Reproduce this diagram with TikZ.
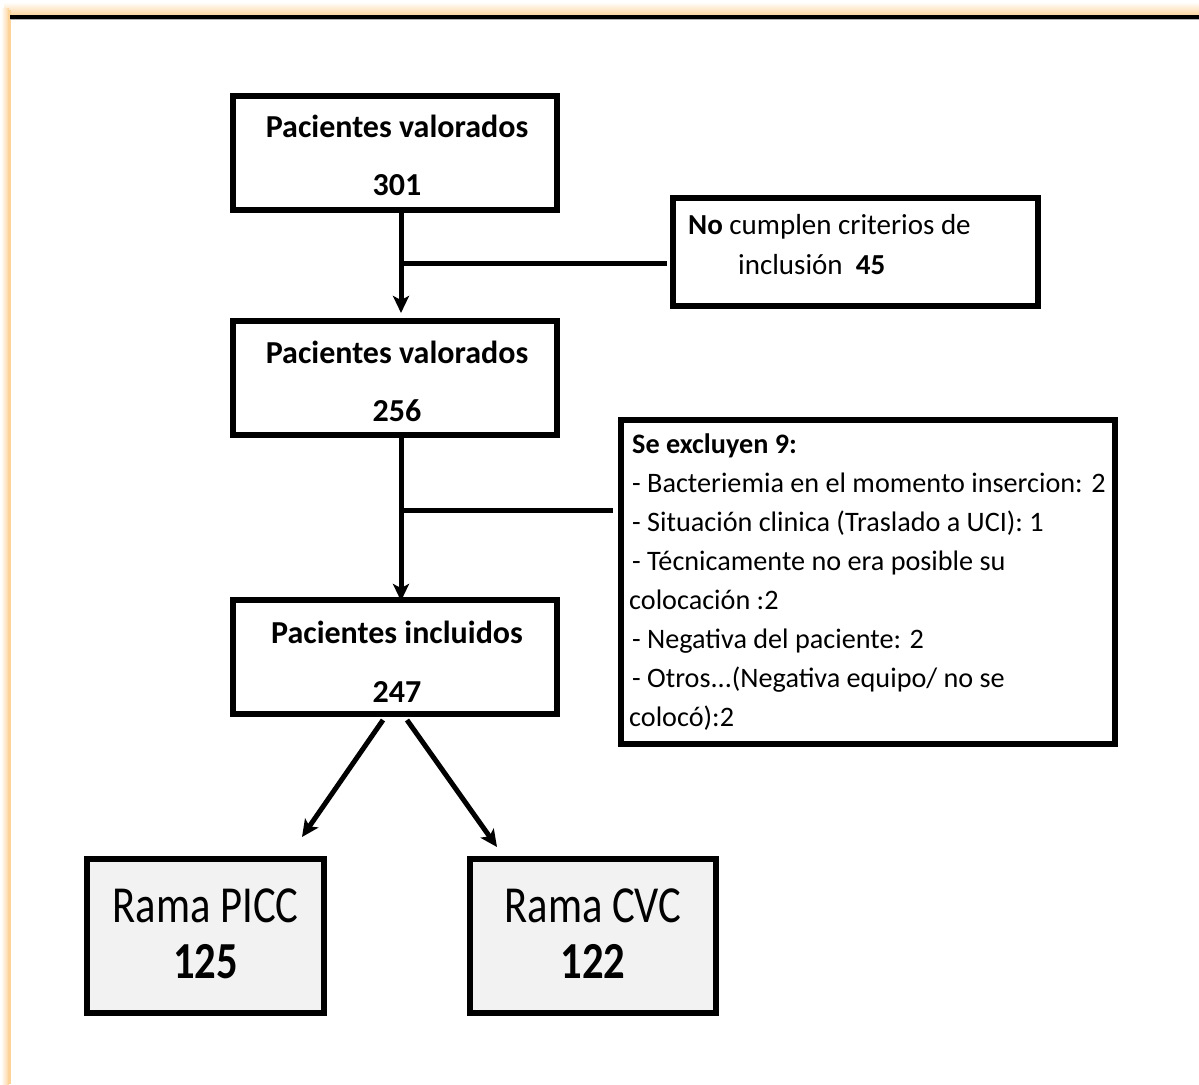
\documentclass[tikz,border=0pt]{standalone}
\usepackage{fontspec}
\setmainfont{Carlito}
\usepackage{graphicx}
\usetikzlibrary{arrows.meta,calc}
\definecolor{boxgray}{HTML}{F2F2F2}
\definecolor{glow}{HTML}{FDD39A}
\begin{document}
\begin{tikzpicture}[x=1pt,y=-1pt,
  box/.style={draw=black,line width=6pt,fill=white,inner sep=0pt,outer sep=0pt},
  rama/.style={box,fill=boxgray},
  conn/.style={line width=5pt},
  arr/.style={conn,-{Stealth[length=17pt,width=16pt,inset=4pt]}},
  ptxt/.style={anchor=base,inner sep=0pt,font=\fontsize{32}{38}\selectfont\bfseries},
  ntxt/.style={anchor=base west,inner sep=0pt,font=\fontsize{29}{35}\selectfont},
  etxt/.style={anchor=base west,inner sep=0pt,font=\fontsize{28.2}{34}\selectfont},
  rtxt/.style={anchor=base,inner sep=0pt,font=\fontsize{52}{60}\selectfont}]
\useasboundingbox (0,0) rectangle (1199,1084);
% frame with glow
\fill[white] (0,0) rectangle (1199,1084);
\shade[top color=white,bottom color=glow] (4,2) rectangle (1199,16);
\shade[left color=white,right color=glow] (1,8) rectangle (9,1084);
\fill[glow] (8,10) rectangle (11,1084);
\draw[gray!60,line width=1pt] (10,19.5) -- (1199,19.5);
\draw[black,line width=3.5pt] (10,17) -- (1199,17);
% boxes
\node[box,minimum width=324pt,minimum height=114pt] (b1) at (395,153) {};
\node[box,minimum width=324pt,minimum height=114pt] (b2) at (395,378) {};
\node[box,minimum width=324pt,minimum height=114pt] (b3) at (395,657) {};
\node[box,minimum width=365pt,minimum height=108pt] (n1) at (855.5,252) {};
\node[box,minimum width=494pt,minimum height=324pt] (ex) at (868,582) {};
\node[rama,minimum width=237pt,minimum height=154pt] (picc) at (205.5,936) {};
\node[rama,minimum width=246pt,minimum height=154pt] (cvc) at (593,936) {};
% texts
\node[ptxt] (b1a) at ($(b1.north)+(2,41)$) {Pacientes valorados};
\node[ptxt] (b1b) at ($(b1.north)+(2,99)$) {301};
\node[ptxt] (b2a) at ($(b2.north)+(2,42)$) {Pacientes valorados};
\node[ptxt] (b2b) at ($(b2.north)+(2,100)$) {256};
\node[ptxt] (b3a) at ($(b3.north)+(2,43)$) {Pacientes incluidos};
\node[ptxt] (b3b) at ($(b3.north)+(2,102)$) {247};
\node[ntxt] (n1a) at ($(n1.north west)+(15,36)$) {\textbf{No} cumplen criterios de};
\node[ntxt] (n1b) at ($(n1.north west)+(65,76)$) {inclusión \ \textbf{45}};
\node[etxt] (ex0) at ($(ex.north west)+(11,33)$) {\textbf{Se excluyen 9:}};
\node[etxt] (ex1) at ($(ex.north west)+(11,72)$) {- Bacteriemia en el momento insercion: 2};
\node[etxt] (ex2) at ($(ex.north west)+(11,111)$) {- Situación clinica (Traslado a UCI): 1};
\node[etxt] (ex3) at ($(ex.north west)+(11,150)$) {- Técnicamente no era posible su};
\node[etxt] (ex4) at ($(ex.north west)+(8,189)$) {colocación :2};
\node[etxt] (ex5) at ($(ex.north west)+(11,228)$) {- Negativa del paciente: 2};
\node[etxt] (ex6) at ($(ex.north west)+(11,267)$) {- Otros...(Negativa equipo/ no se};
\node[etxt] (ex7) at ($(ex.north west)+(8,306)$) {colocó):2};
\node[rtxt] (pa) at ($(picc.north)+(0,63)$) {\scalebox{0.82}[1]{Rama PICC}};
\node[rtxt] (pb) at ($(picc.north)+(0,119)$) {\scalebox{0.82}[1]{\bfseries 125}};
\node[rtxt] (ca) at ($(cvc.north)+(0,63)$) {\scalebox{0.82}[1]{Rama CVC}};
\node[rtxt] (cb) at ($(cvc.north)+(0,119)$) {\scalebox{0.82}[1]{\bfseries 122}};
% connectors
\draw[arr] ($(b1.south)+(6,3)$) -- ($(b2.north)+(6,-8)$);
\coordinate (j1) at ($(b1.south)+(6,53)$);
\coordinate (n1w) at ([xshift=-6pt]n1.west);
\draw[conn] (j1) -- (n1w |- j1);
\draw[arr] ($(b2.south)+(6,3)$) -- ($(b3.north)+(6,1)$);
\coordinate (j2) at ($(b2.south)+(6,75)$);
\coordinate (exw) at ([xshift=-8pt]ex.west);
\draw[conn] (j2) -- (exw |- j2);
\draw[arr] ($(b3.south)+(-12,6)$) -- ($(picc.north east)+(-22,-22)$);
\draw[arr] ($(b3.south)+(12,6)$) -- ($(cvc.north west)+(27,-12)$);
\end{tikzpicture}
\end{document}
